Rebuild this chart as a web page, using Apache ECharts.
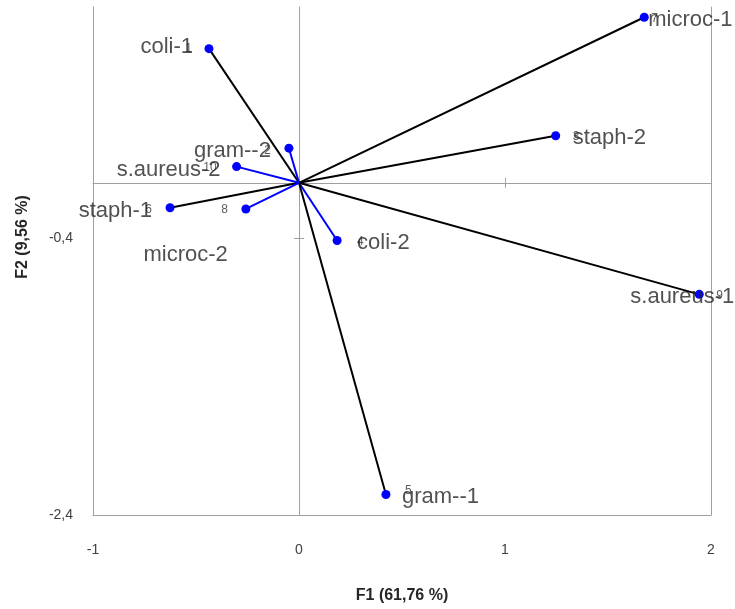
<!DOCTYPE html>
<html>
<head>
<meta charset="utf-8">
<script src="https://cdn.jsdelivr.net/npm/echarts@6/dist/echarts.min.js"></script>
<style>
html,body{margin:0;padding:0;background:#fff;}
#chart{width:735px;height:609px;}
</style>
</head>
<body>
<div id="chart"></div>
<script>
// ---- data ----
const names = ['coli-1','gram--2','staph-2','coli-2','gram--1','staph-1','microc-1','microc-2','s.aureus-1','s.aureus-2'];
const pointIds = ['1','2','3','4','5','6','7','8','9','10'];
const f1 = [-0.437,-0.049,1.246,0.185,0.422,-0.626,1.676,-0.258,1.943,-0.303];
const f2 = [0.969,0.250,0.340,-0.417,-2.252,-0.180,1.196,-0.189,-0.806,0.117];
const vectorGroup = ['A','B','A','B','A','A','A','B','A','B'];
const xTicks = [-1,0,1,2];
const yTicks = [-2.4,-0.4];
const xTitle = 'F1 (61,76 %)';
const yTitle = 'F2 (9,56 %)';

// ---- styles ----
const groupColor = {A:'#000000', B:'#0000ff'};
const mainLabelPlace = {
  'coli-1':['right',-16,-2], 'gram--2':['right',-18,3], 's.aureus-2':['right',-16,3],
  'staph-1':['right',-18,3], 'microc-2':['right',-18,46], 'microc-1':['left',4,3],
  'staph-2':['left',17,2], 'coli-2':['left',20,2], 's.aureus-1':['center',-17,3],
  'gram--1':['left',16,2]
};
const idLabelPlace = {
  'coli-1':['right',-17,0], 'gram--2':['right',-18,2], 's.aureus-2':['right',-20,1],
  'staph-1':['right',-18,2], 'microc-2':['right',-18,1], 'microc-1':['left',7,1],
  'staph-2':['left',17,1], 'coli-2':['left',20,1], 's.aureus-1':['left',17,1],
  'gram--1':['left',19,-4]
};
const gray = '#a0a0a0';
const fmt = v => String(v).replace('.', ',');

const vectors = names.map((n,i)=>({
  coords:[[0,0],[f1[i],f2[i]]],
  lineStyle:{color:groupColor[vectorGroup[i]], width:2, opacity:1}
}));
const pts = names.map((n,i)=>[f1[i],f2[i]]);
const mainLabels = names.map((n,i)=>{
  const p = mainLabelPlace[n];
  return {value:[f1[i],f2[i]], label:{formatter:n, align:p[0], offset:[p[1],p[2]]}};
});
const idLabels = names.map((n,i)=>{
  const p = idLabelPlace[n];
  return {value:[f1[i],f2[i]], label:{formatter:pointIds[i], align:p[0], offset:[p[1],p[2]]}};
});

const chart = echarts.init(document.getElementById('chart'));
const xBase = {type:'value', min:-1, max:2, interval:1, splitLine:{show:false}};
const yBase = {type:'value', min:-2.4, max:1.27, interval:2, splitLine:{show:false}};
chart.setOption({
  animation:false,
  grid:{left:93, right:24, top:7, bottom:92, containLabel:false},
  xAxis:[
    Object.assign({}, xBase, {
      position:'bottom',
      axisLine:{show:true, onZero:false, lineStyle:{color:gray, width:1}},
      axisTick:{show:false},
      axisLabel:{show:true, margin:28, color:'#404040', fontFamily:'Liberation Sans', fontSize:14,
        customValues:xTicks, formatter:fmt},
      name:xTitle, nameLocation:'middle', nameGap:73,
      nameTextStyle:{fontFamily:'Liberation Sans', fontWeight:'bold', fontSize:16, color:'#262626'}
    }),
    Object.assign({}, xBase, {
      axisLine:{show:true, onZero:true, onZeroAxisIndex:0, lineStyle:{color:gray, width:1}},
      axisTick:{show:true, inside:false, length:5, lineStyle:{color:gray}, customValues:xTicks},
      axisLabel:{show:false}
    }),
    Object.assign({}, xBase, {
      axisLine:{show:false, onZero:true, onZeroAxisIndex:0},
      axisTick:{show:true, inside:true, length:5, lineStyle:{color:gray}, customValues:xTicks},
      axisLabel:{show:false}
    })
  ],
  yAxis:[
    Object.assign({}, yBase, {
      position:'left',
      axisLine:{show:true, onZero:false, lineStyle:{color:gray, width:1}},
      axisTick:{show:false},
      axisLabel:{show:true, margin:20, color:'#404040', fontFamily:'Liberation Sans', fontSize:14,
        customValues:yTicks, formatter:fmt},
      name:yTitle, nameLocation:'middle', nameGap:62, nameRotate:90,
      nameTextStyle:{fontFamily:'Liberation Sans', fontWeight:'bold', fontSize:16, color:'#262626',
        padding:[0,0,0,48]}
    }),
    Object.assign({}, yBase, {
      axisLine:{show:true, onZero:true, onZeroAxisIndex:0, lineStyle:{color:gray, width:1}},
      axisTick:{show:true, inside:false, length:5, lineStyle:{color:gray}, customValues:yTicks},
      axisLabel:{show:false}
    }),
    Object.assign({}, yBase, {
      position:'right',
      axisLine:{show:true, onZero:false, lineStyle:{color:gray, width:1}},
      axisTick:{show:false},
      axisLabel:{show:false}
    }),
    Object.assign({}, yBase, {
      axisLine:{show:false, onZero:true, onZeroAxisIndex:0},
      axisTick:{show:true, inside:true, length:5, lineStyle:{color:gray}, customValues:yTicks},
      axisLabel:{show:false}
    })
  ],
  series:[
    {type:'lines', coordinateSystem:'cartesian2d', xAxisIndex:0, yAxisIndex:0,
     data:vectors, silent:true, z:2},
    {type:'scatter', xAxisIndex:0, yAxisIndex:0, data:pts, symbol:'circle', symbolSize:9,
     itemStyle:{color:'#0000ff', opacity:1}, silent:true, z:3},
    {type:'scatter', xAxisIndex:0, yAxisIndex:0, data:idLabels, symbolSize:0, silent:true, z:4,
     label:{show:true, position:[0,0], verticalAlign:'middle', fontFamily:'Liberation Sans',
       fontSize:12, color:'#333333'}},
    {type:'scatter', xAxisIndex:0, yAxisIndex:0, data:mainLabels, symbolSize:0, silent:true, z:5,
     label:{show:true, position:[0,0], verticalAlign:'middle', fontFamily:'Liberation Sans',
       fontSize:22, color:'#262626'}}
  ]
});
</script>
</body>
</html>
